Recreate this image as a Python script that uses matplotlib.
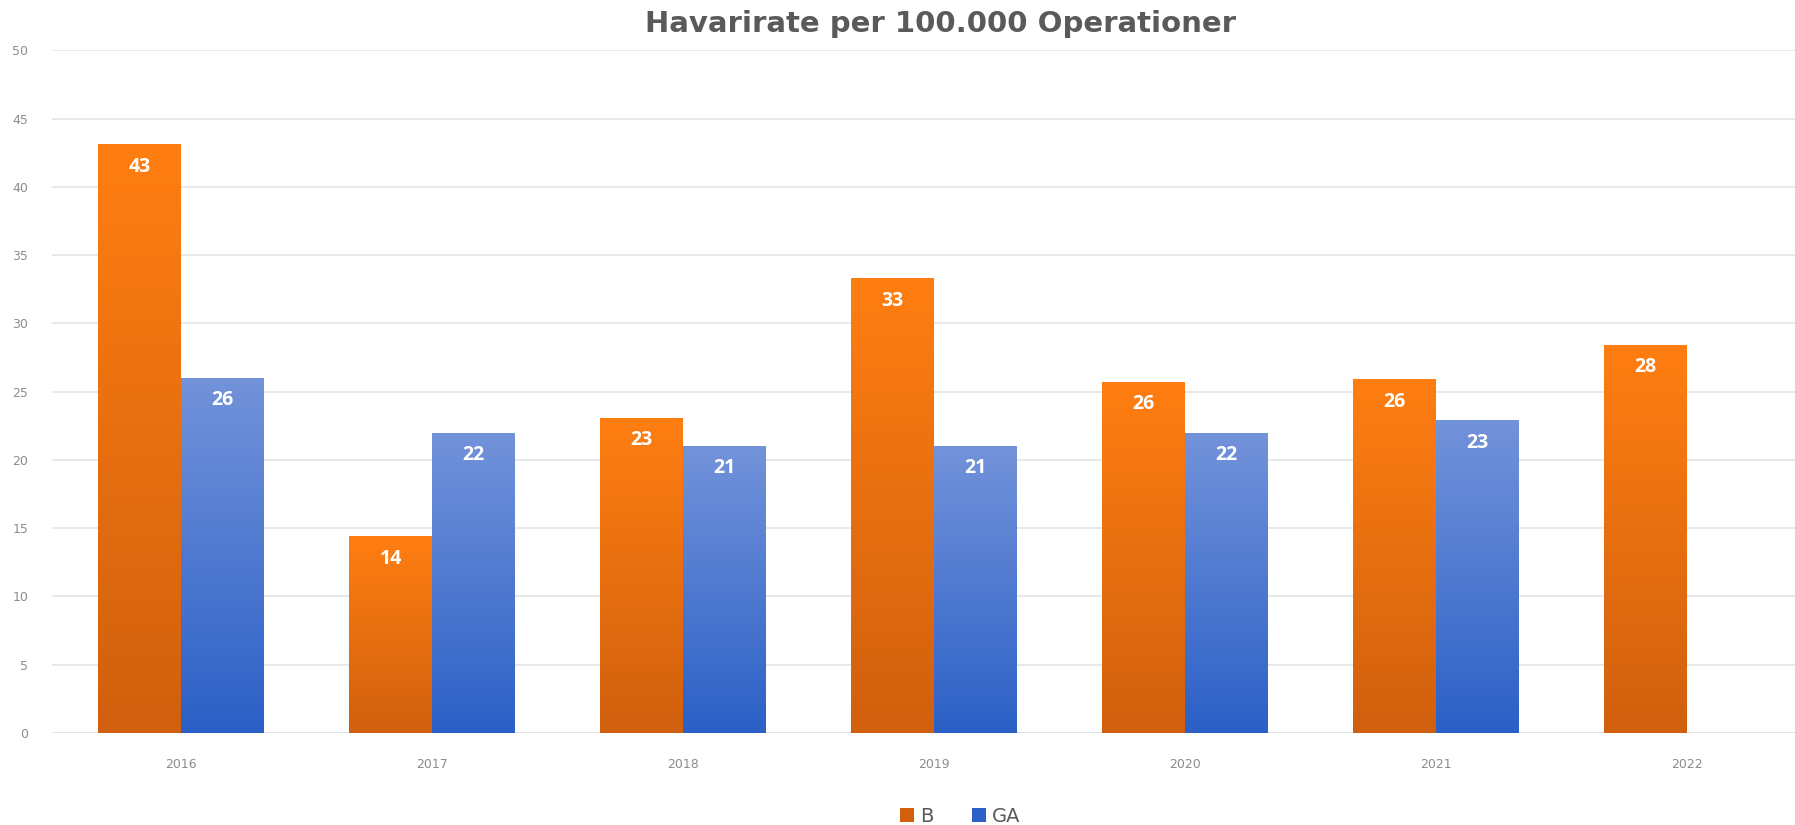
import numpy as np
import matplotlib
matplotlib.use("Agg")
import matplotlib.pyplot as plt
from matplotlib.colors import LinearSegmentedColormap
from matplotlib.patches import Patch

# data
years = ["2016", "2017", "2018", "2019", "2020", "2021", "2022"]
b_values = [43.1, 14.4, 23.1, 33.3, 25.7, 25.9, 28.4]
ga_values = [26.0, 22.0, 21.0, 21.0, 22.0, 22.9, None]
series_names = ["B", "GA"]

orange_top, orange_bottom = "#FF7E12", "#D0600E"
blue_top, blue_bottom = "#7393DA", "#2C60C6"


# fill a bar with a vertical gradient (light at the top, dark at the bottom)
def gradient_bar(ax, bar, top_color, bottom_color):
	x, y = bar.get_x(), bar.get_y()
	w, h = bar.get_width(), bar.get_height()
	cmap = LinearSegmentedColormap.from_list("g", [bottom_color, top_color])
	grad = np.linspace(0, 1, 256).reshape(-1, 1)
	img = ax.imshow(grad, extent=[x, x + w, y, y + h], origin="lower",
		aspect="auto", cmap=cmap, zorder=bar.get_zorder())
	img.set_clip_path(bar)
	bar.set_facecolor("none")


def main():
	fig = plt.figure(figsize=(17.95, 8.25), dpi=100)
	ax = fig.add_axes([0.029, 0.1115, 0.971, 0.8276])

	x = np.arange(len(years))
	width = 0.33

	b_bars = ax.bar(x - width / 2, b_values, width, color=orange_top, zorder=3, linewidth=0)
	ga_x = [xi + width / 2 for xi, v in zip(x, ga_values) if v is not None]
	ga_v = [v for v in ga_values if v is not None]
	ga_bars = ax.bar(ga_x, ga_v, width, color=blue_top, zorder=3, linewidth=0)

	for bar in b_bars:
		gradient_bar(ax, bar, orange_top, orange_bottom)
	for bar in ga_bars:
		gradient_bar(ax, bar, blue_top, blue_bottom)

	# value labels inside the bar tops
	for bars in (b_bars, ga_bars):
		for bar in bars:
			h = bar.get_height()
			ax.annotate(f"{h:.0f}", (bar.get_x() + bar.get_width() / 2, h),
				xytext=(0, -16), textcoords="offset points", ha="center", va="center",
				color="white", fontsize=14, fontweight="bold", family="Open Sans", zorder=5)

	ax.set_xlim(-0.514, 6.43)
	ax.set_ylim(0, 50)
	ax.set_yticks(range(0, 51, 5))
	ax.set_xticks(x)
	ax.set_xticklabels(years)
	ax.tick_params(axis="both", length=0, colors="#8C8C8C", labelsize=9)
	ax.tick_params(axis="x", pad=18)
	ax.tick_params(axis="y", pad=17)
	ax.grid(axis="y", color="#E4E4E4", linewidth=1.2, zorder=0)
	for s in ax.spines.values():
		s.set_visible(False)
	ax.axhline(0, color="#D9D9D9", linewidth=1.2, zorder=1)

	fig.suptitle("Havarirate per 100.000 Operationer", x=0.524, y=0.988, va="top",
		fontsize=21, fontweight="bold", color="#5A5A5A", family="DejaVu Sans")

	handles = [Patch(facecolor=orange_bottom, label=series_names[0]),
		Patch(facecolor=blue_bottom, label=series_names[1])]
	fig.legend(handles=handles, loc="lower center", bbox_to_anchor=(0.535, -0.022),
		ncol=2, frameon=False, fontsize=14, labelcolor="#595959",
		handlelength=0.7, handleheight=0.7, handletextpad=0.3, columnspacing=2.0)

	fig.savefig("out.png", dpi=100, facecolor="white")


if __name__ == "__main__":
	main()
